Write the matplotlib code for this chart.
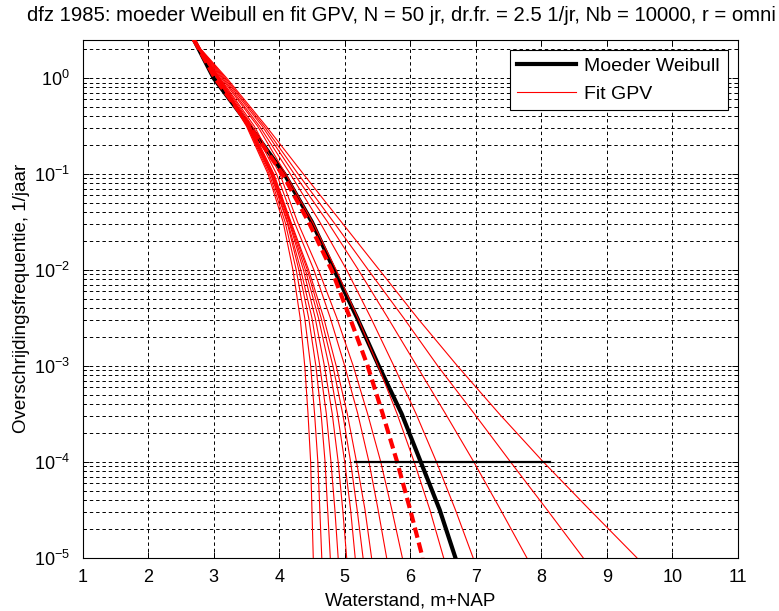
import matplotlib
matplotlib.use("Agg")
import matplotlib.pyplot as plt

plt.rcParams['font.family'] = ['Liberation Sans', 'DejaVu Sans']
plt.rcParams['mathtext.fontset'] = 'custom'
plt.rcParams['mathtext.rm'] = 'Liberation Sans'
plt.rcParams['axes.unicode_minus'] = False

# ---- data ----
# frequency levels (1/jaar) at which the curves were read
freq_levels = [2.5, 1.0, 0.316, 0.1, 0.0316, 0.01, 0.00316, 0.001,
               0.000316, 1e-4, 3.16e-5, 1e-5]

# water levels (m+NAP) at those frequencies
weibull_x = [2.70, 3.00, 3.55, 4.08, 4.50, 4.84, 5.19, 5.52, 5.87, 6.16, 6.45, 6.69]
gpv_mid_x = [2.70, 3.02, 3.55, 4.05, 4.45, 4.80, 5.08, 5.35, 5.58, 5.80, 6.00, 6.19]

fit_01 = [2.68, 3.05, 3.50, 3.83, 4.06, 4.21, 4.32, 4.39, 4.44, 4.48, 4.50, 4.52]
fit_02 = [2.68, 3.05, 3.51, 3.85, 4.09, 4.26, 4.39, 4.48, 4.54, 4.59, 4.62, 4.65]
fit_03 = [2.68, 3.06, 3.52, 3.87, 4.12, 4.30, 4.45, 4.56, 4.64, 4.70, 4.74, 4.78]
fit_04 = [2.68, 3.06, 3.52, 3.88, 4.13, 4.33, 4.50, 4.62, 4.72, 4.79, 4.85, 4.90]
fit_05 = [2.68, 3.07, 3.53, 3.89, 4.15, 4.37, 4.55, 4.69, 4.81, 4.90, 4.97, 5.03]
fit_06 = [2.68, 3.07, 3.54, 3.90, 4.16, 4.40, 4.60, 4.76, 4.89, 5.00, 5.09, 5.16]
fit_07 = [2.68, 3.08, 3.55, 3.91, 4.17, 4.43, 4.64, 4.82, 4.97, 5.09, 5.19, 5.28]
fit_08 = [2.68, 3.08, 3.56, 3.92, 4.18, 4.45, 4.68, 4.87, 5.04, 5.18, 5.31, 5.41]
fit_09 = [2.68, 3.09, 3.59, 3.96, 4.23, 4.53, 4.78, 5.00, 5.20, 5.37, 5.51, 5.64]
fit_10 = [2.68, 3.10, 3.62, 4.01, 4.28, 4.60, 4.88, 5.13, 5.35, 5.55, 5.72, 5.88]
fit_11 = [2.68, 3.12, 3.67, 4.10, 4.51, 4.87, 5.20, 5.51, 5.80, 6.06, 6.30, 6.51]
fit_12 = [2.68, 3.14, 3.70, 4.17, 4.62, 5.03, 5.40, 5.75, 6.09, 6.40, 6.69, 6.96]
fit_13 = [2.68, 3.16, 3.74, 4.23, 4.74, 5.21, 5.66, 6.10, 6.54, 6.97, 7.38, 7.78]
fit_14 = [2.68, 3.18, 3.77, 4.29, 4.83, 5.36, 5.90, 6.42, 6.98, 7.53, 8.09, 8.64]
fit_15 = [2.68, 3.20, 3.80, 4.37, 4.95, 5.53, 6.11, 6.72, 7.36, 8.03, 8.74, 9.46]
gpv_fits = [fit_01, fit_02, fit_03, fit_04, fit_05, fit_06, fit_07, fit_08,
            fit_09, fit_10, fit_11, fit_12, fit_13, fit_14, fit_15]

# spread at 1e-4 /jaar
band_x = [5.15, 8.13]
band_freq = [1e-4, 1e-4]

TITLE = ("dfz 1985: moeder Weibull en fit GPV, N = 50 jr, dr.fr. = 2.5 1/jr, "
         "Nb = 10000, r = omni")

# ---- figure ----
W, H = 779, 611
fig = plt.figure(figsize=(W / 100, H / 100), dpi=100)
fig.patch.set_facecolor("white")
ax = fig.add_axes([82.7 / W, (H - 557.7) / H, 655 / W, 517.7 / H])

ax.plot(weibull_x, freq_levels, color="black", lw=3.0, label="Moeder Weibull", zorder=3)
for i, fx in enumerate(gpv_fits):
    ax.plot(fx, freq_levels, color="red", lw=0.8, zorder=4,
            label="Fit GPV" if i == 0 else None)
ax.plot(gpv_mid_x, freq_levels, color="red", lw=3.0, dashes=(2.5, 1.2), zorder=5)
ax.plot(band_x, band_freq, color="black", lw=1.6, zorder=6)

ax.set_yscale("log")
ax.set_xlim(1, 11)
ax.set_ylim(1e-5, 2.5)
ax.set_xticks(range(1, 12))

ax.grid(True, which="major", axis="both", color="black", lw=0.7, ls=(0, (3.5, 3)))
ax.grid(True, which="minor", axis="y", color="black", lw=0.7, ls=(0, (3.5, 3)))
ax.tick_params(which="both", direction="in", top=True, right=True,
               labelsize=13, color="black")
ax.tick_params(axis="x", which="major", pad=8)
ax.tick_params(axis="y", which="major", pad=9)
ax.tick_params(which="major", length=4.5, width=0.7)
ax.tick_params(which="minor", length=2.5, width=0.7)
for sp in ax.spines.values():
    sp.set_linewidth(0.8)

ax.set_title(TITLE, fontsize=14.6, pad=14, x=0.486)
ax.set_xlabel("Waterstand, m+NAP", fontsize=13.5, labelpad=5)
ax.set_ylabel("Overschrijdingsfrequentie, 1/jaar", fontsize=13.5, labelpad=3)

leg = ax.legend(loc="upper right", bbox_to_anchor=(0.985, 0.981), fontsize=14,
                fancybox=False, framealpha=1, edgecolor="black",
                handlelength=3.0, handletextpad=0.45, borderpad=0.4,
                labelspacing=0.5, borderaxespad=0)
leg.get_frame().set_linewidth(0.8)

fig.savefig("out.png", dpi=100)
